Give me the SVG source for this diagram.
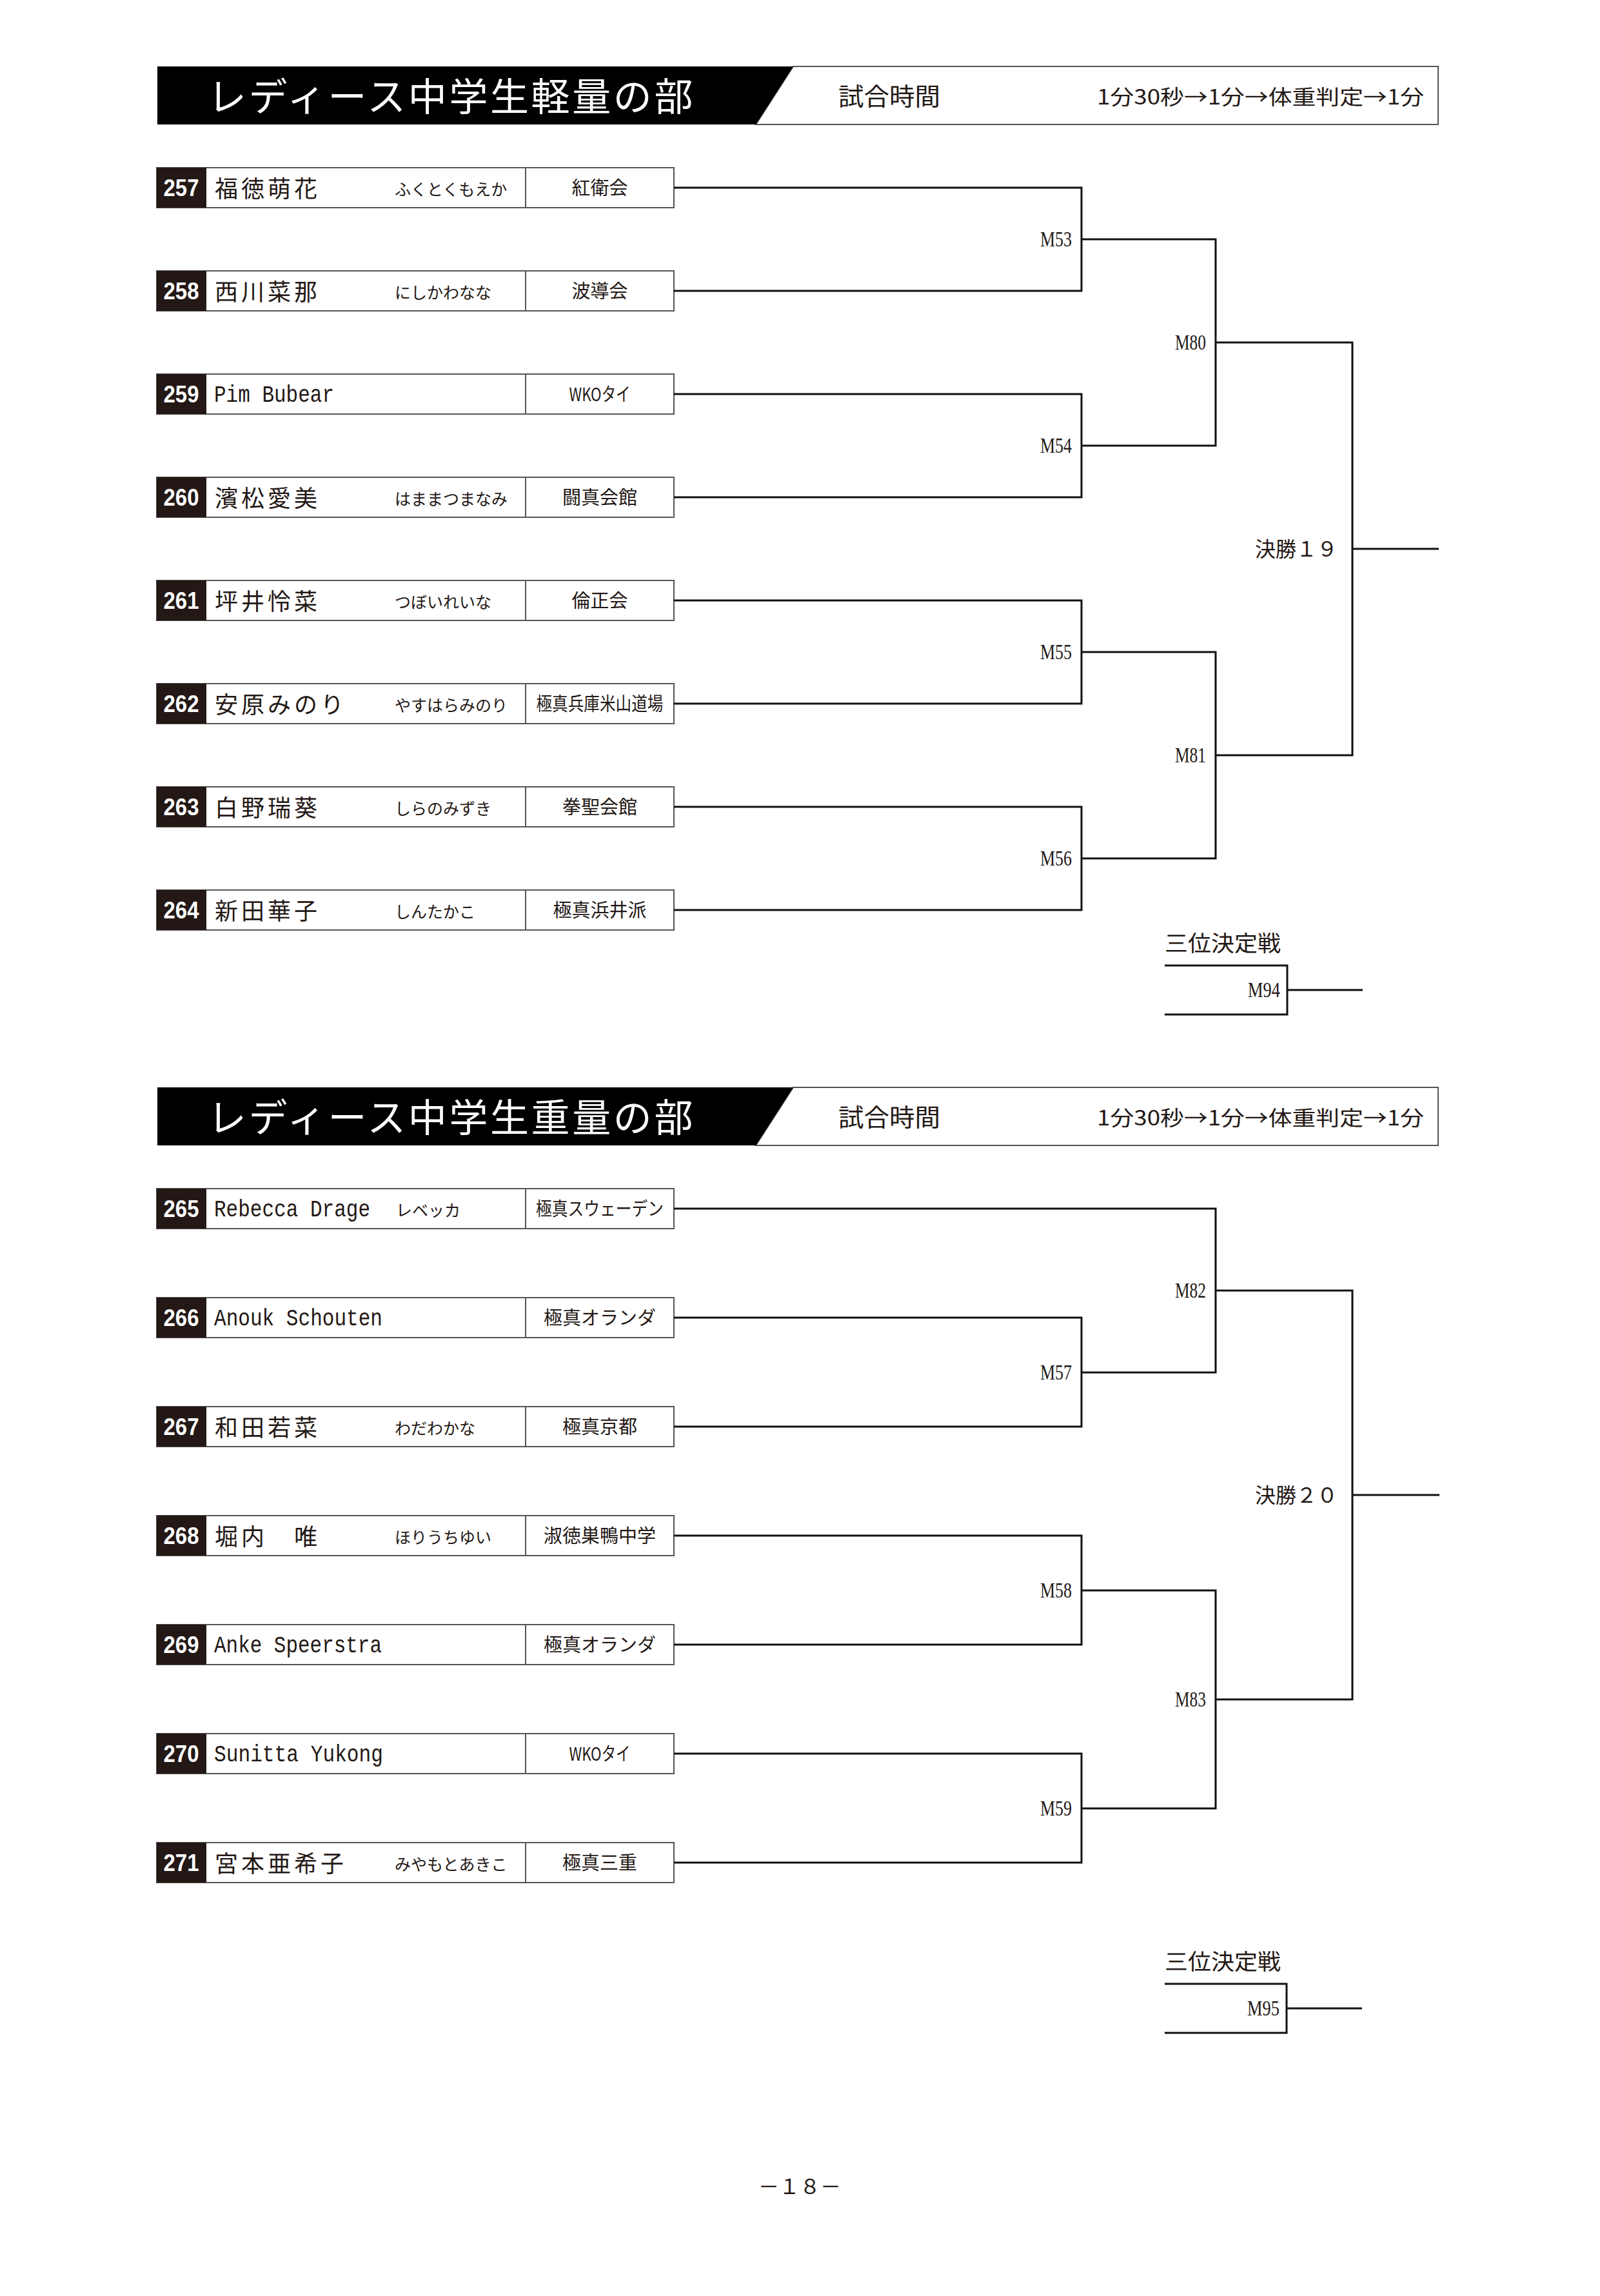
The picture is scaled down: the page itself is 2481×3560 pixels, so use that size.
<svg xmlns="http://www.w3.org/2000/svg" width="2481" height="3560" viewBox="0 0 2481 3560">
<style>
.bg{fill:#fff}
.box{fill:#fff;stroke:#555;stroke-width:2}
.num{fill:#231815}
.div{stroke:#555;stroke-width:2}
.numt{font-family:"Liberation Sans",Arial,sans-serif;font-weight:bold;font-size:37px;fill:#fff;text-anchor:middle}
.name{font-family:"Noto Sans CJK JP",sans-serif;font-size:36px;fill:#231815;letter-spacing:5px}
.lname{font-family:"Liberation Mono",monospace;font-size:37px;fill:#231815}
.kana{font-family:"Noto Sans CJK JP",sans-serif;font-size:25px;fill:#231815}
.club{font-family:"Noto Sans CJK JP",sans-serif;font-size:29px;fill:#231815;text-anchor:middle}
.ln{fill:none;stroke:#111;stroke-width:3}
.mlab{font-family:"Liberation Serif",serif;font-size:33px;fill:#231815;text-anchor:end}
.fin{font-family:"Noto Sans CJK JP",sans-serif;font-size:32px;fill:#231815;text-anchor:end}
.third{font-family:"Noto Sans CJK JP",sans-serif;font-size:34px;fill:#231815}
.title{font-family:"Noto Sans CJK JP",sans-serif;font-size:60px;fill:#fff;letter-spacing:3.6px}
.hdr{font-family:"Noto Sans CJK JP",sans-serif;fill:#231815}
.hbox{fill:#fff;stroke:#555;stroke-width:2}
.page{font-family:"Noto Sans CJK JP",sans-serif;font-size:32px;fill:#231815;text-anchor:middle}
</style>
<rect class="bg" x="0" y="0" width="2481" height="3560"/>

<!-- Header 1 -->
<g id="header1">
<polygon class="hbox" points="1230,103 2230,103 2230,193 1172,193"/>
<polygon fill="#000" points="244,103 1230,103 1172,193 244,193"/>
<text class="title" x="322" y="172">レディース中学生軽量の部</text>
<text class="hdr" x="1300" y="163" font-size="38" textLength="158" lengthAdjust="spacingAndGlyphs">試合時間</text>
<text class="hdr" x="1701" y="162" font-size="32" textLength="507" lengthAdjust="spacingAndGlyphs">1分30秒→1分→体重判定→1分</text>
</g>

<!-- Top entries -->
<g id="e257" transform="translate(0,260)">
<rect class="box" x="243" y="0" width="802" height="62"/><rect class="num" x="243" y="0" width="77" height="62"/><line class="div" x1="815" y1="0" x2="815" y2="62"/>
<text class="numt" x="281" y="44" textLength="55" lengthAdjust="spacingAndGlyphs">257</text>
<text class="name" x="333" y="46">福徳萌花</text><text class="kana" x="612" y="43">ふくとくもえか</text><text class="club" x="930" y="42">紅衛会</text>
</g>
<g id="e258" transform="translate(0,420)">
<rect class="box" x="243" y="0" width="802" height="62"/><rect class="num" x="243" y="0" width="77" height="62"/><line class="div" x1="815" y1="0" x2="815" y2="62"/>
<text class="numt" x="281" y="44" textLength="55" lengthAdjust="spacingAndGlyphs">258</text>
<text class="name" x="333" y="46">西川菜那</text><text class="kana" x="612" y="43">にしかわなな</text><text class="club" x="930" y="42">波導会</text>
</g>
<g id="e259" transform="translate(0,580)">
<rect class="box" x="243" y="0" width="802" height="62"/><rect class="num" x="243" y="0" width="77" height="62"/><line class="div" x1="815" y1="0" x2="815" y2="62"/>
<text class="numt" x="281" y="44" textLength="55" lengthAdjust="spacingAndGlyphs">259</text>
<text class="lname" x="332" y="43" textLength="186" lengthAdjust="spacingAndGlyphs">Pim Bubear</text><text class="club" x="930" y="42" textLength="95" lengthAdjust="spacingAndGlyphs">WKOタイ</text>
</g>
<g id="e260" transform="translate(0,740)">
<rect class="box" x="243" y="0" width="802" height="62"/><rect class="num" x="243" y="0" width="77" height="62"/><line class="div" x1="815" y1="0" x2="815" y2="62"/>
<text class="numt" x="281" y="44" textLength="55" lengthAdjust="spacingAndGlyphs">260</text>
<text class="name" x="333" y="46">濱松愛美</text><text class="kana" x="612" y="43">はままつまなみ</text><text class="club" x="930" y="42">闘真会館</text>
</g>
<g id="e261" transform="translate(0,900)">
<rect class="box" x="243" y="0" width="802" height="62"/><rect class="num" x="243" y="0" width="77" height="62"/><line class="div" x1="815" y1="0" x2="815" y2="62"/>
<text class="numt" x="281" y="44" textLength="55" lengthAdjust="spacingAndGlyphs">261</text>
<text class="name" x="333" y="46">坪井怜菜</text><text class="kana" x="612" y="43">つぼいれいな</text><text class="club" x="930" y="42">倫正会</text>
</g>
<g id="e262" transform="translate(0,1060)">
<rect class="box" x="243" y="0" width="802" height="62"/><rect class="num" x="243" y="0" width="77" height="62"/><line class="div" x1="815" y1="0" x2="815" y2="62"/>
<text class="numt" x="281" y="44" textLength="55" lengthAdjust="spacingAndGlyphs">262</text>
<text class="name" x="333" y="46">安原みのり</text><text class="kana" x="612" y="43">やすはらみのり</text><text class="club" x="930" y="42" textLength="197" lengthAdjust="spacingAndGlyphs">極真兵庫米山道場</text>
</g>
<g id="e263" transform="translate(0,1220)">
<rect class="box" x="243" y="0" width="802" height="62"/><rect class="num" x="243" y="0" width="77" height="62"/><line class="div" x1="815" y1="0" x2="815" y2="62"/>
<text class="numt" x="281" y="44" textLength="55" lengthAdjust="spacingAndGlyphs">263</text>
<text class="name" x="333" y="46">白野瑞葵</text><text class="kana" x="612" y="43">しらのみずき</text><text class="club" x="930" y="42">拳聖会館</text>
</g>
<g id="e264" transform="translate(0,1380)">
<rect class="box" x="243" y="0" width="802" height="62"/><rect class="num" x="243" y="0" width="77" height="62"/><line class="div" x1="815" y1="0" x2="815" y2="62"/>
<text class="numt" x="281" y="44" textLength="55" lengthAdjust="spacingAndGlyphs">264</text>
<text class="name" x="333" y="46">新田華子</text><text class="kana" x="612" y="43">しんたかこ</text><text class="club" x="930" y="42">極真浜井派</text>
</g>

<!-- Third place top -->
<g id="third1">
<text class="third" x="1806" y="1475" textLength="180" lengthAdjust="spacingAndGlyphs">三位決定戦</text>
<text class="mlab" x="1985" y="1546" textLength="50" lengthAdjust="spacingAndGlyphs">M94</text>
</g>

<!-- Header 2 -->
<g id="header2" transform="translate(0,1583)">
<polygon class="hbox" points="1230,103 2230,103 2230,193 1172,193"/>
<polygon fill="#000" points="244,103 1230,103 1172,193 244,193"/>
<text class="title" x="322" y="172">レディース中学生重量の部</text>
<text class="hdr" x="1300" y="163" font-size="38" textLength="158" lengthAdjust="spacingAndGlyphs">試合時間</text>
<text class="hdr" x="1701" y="162" font-size="32" textLength="507" lengthAdjust="spacingAndGlyphs">1分30秒→1分→体重判定→1分</text>
</g>

<!-- Bottom entries -->
<g id="e265" transform="translate(0,1843)">
<rect class="box" x="243" y="0" width="802" height="62"/><rect class="num" x="243" y="0" width="77" height="62"/><line class="div" x1="815" y1="0" x2="815" y2="62"/>
<text class="numt" x="281" y="44" textLength="55" lengthAdjust="spacingAndGlyphs">265</text>
<text class="lname" x="332" y="43" textLength="242" lengthAdjust="spacingAndGlyphs">Rebecca Drage</text><text class="kana" x="614" y="43">レベッカ</text><text class="club" x="930" y="42" textLength="198" lengthAdjust="spacingAndGlyphs">極真スウェーデン</text>
</g>
<g id="e266" transform="translate(0,2012)">
<rect class="box" x="243" y="0" width="802" height="62"/><rect class="num" x="243" y="0" width="77" height="62"/><line class="div" x1="815" y1="0" x2="815" y2="62"/>
<text class="numt" x="281" y="44" textLength="55" lengthAdjust="spacingAndGlyphs">266</text>
<text class="lname" x="332" y="43" textLength="261" lengthAdjust="spacingAndGlyphs">Anouk Schouten</text><text class="club" x="930" y="42">極真オランダ</text>
</g>
<g id="e267" transform="translate(0,2181)">
<rect class="box" x="243" y="0" width="802" height="62"/><rect class="num" x="243" y="0" width="77" height="62"/><line class="div" x1="815" y1="0" x2="815" y2="62"/>
<text class="numt" x="281" y="44" textLength="55" lengthAdjust="spacingAndGlyphs">267</text>
<text class="name" x="333" y="46">和田若菜</text><text class="kana" x="612" y="43">わだわかな</text><text class="club" x="930" y="42">極真京都</text>
</g>
<g id="e268" transform="translate(0,2350)">
<rect class="box" x="243" y="0" width="802" height="62"/><rect class="num" x="243" y="0" width="77" height="62"/><line class="div" x1="815" y1="0" x2="815" y2="62"/>
<text class="numt" x="281" y="44" textLength="55" lengthAdjust="spacingAndGlyphs">268</text>
<text class="name" x="333" y="46">堀内　唯</text><text class="kana" x="612" y="43">ほりうちゆい</text><text class="club" x="930" y="42">淑徳巣鴨中学</text>
</g>
<g id="e269" transform="translate(0,2519)">
<rect class="box" x="243" y="0" width="802" height="62"/><rect class="num" x="243" y="0" width="77" height="62"/><line class="div" x1="815" y1="0" x2="815" y2="62"/>
<text class="numt" x="281" y="44" textLength="55" lengthAdjust="spacingAndGlyphs">269</text>
<text class="lname" x="332" y="43" textLength="260" lengthAdjust="spacingAndGlyphs">Anke Speerstra</text><text class="club" x="930" y="42">極真オランダ</text>
</g>
<g id="e270" transform="translate(0,2688)">
<rect class="box" x="243" y="0" width="802" height="62"/><rect class="num" x="243" y="0" width="77" height="62"/><line class="div" x1="815" y1="0" x2="815" y2="62"/>
<text class="numt" x="281" y="44" textLength="55" lengthAdjust="spacingAndGlyphs">270</text>
<text class="lname" x="332" y="43" textLength="262" lengthAdjust="spacingAndGlyphs">Sunitta Yukong</text><text class="club" x="930" y="42" textLength="95" lengthAdjust="spacingAndGlyphs">WKOタイ</text>
</g>
<g id="e271" transform="translate(0,2857)">
<rect class="box" x="243" y="0" width="802" height="62"/><rect class="num" x="243" y="0" width="77" height="62"/><line class="div" x1="815" y1="0" x2="815" y2="62"/>
<text class="numt" x="281" y="44" textLength="55" lengthAdjust="spacingAndGlyphs">271</text>
<text class="name" x="333" y="46">宮本亜希子</text><text class="kana" x="612" y="43">みやもとあきこ</text><text class="club" x="930" y="42">極真三重</text>
</g>

<!-- Third place bottom -->
<g id="third2">
<text class="third" x="1806" y="3054" textLength="180" lengthAdjust="spacingAndGlyphs">三位決定戦</text>
<text class="mlab" x="1984" y="3125" textLength="50" lengthAdjust="spacingAndGlyphs">M95</text>
</g>

<!-- Connectors -->
<g id="connectors">
<path class="ln" d="M1045,291 H1677 V451 H1045"/>
<path class="ln" d="M1045,611 H1677 V771 H1045"/>
<path class="ln" d="M1045,931 H1677 V1091 H1045"/>
<path class="ln" d="M1045,1251 H1677 V1411 H1045"/>
<path class="ln" d="M1677,371 H1885 V691 H1677"/>
<path class="ln" d="M1677,1011 H1885 V1331 H1677"/>
<path class="ln" d="M1885,531 H2097 V1171 H1885"/>
<path class="ln" d="M2097,851 H2231"/>
<path class="ln" d="M1806,1497 H1996 V1573 H1806"/>
<path class="ln" d="M1996,1535 H2113"/>

<path class="ln" d="M1045,1874 H1885 V2128 H1677"/>
<path class="ln" d="M1045,2043 H1677 V2212 H1045"/>
<path class="ln" d="M1045,2381 H1677 V2550 H1045"/>
<path class="ln" d="M1045,2719 H1677 V2888 H1045"/>
<path class="ln" d="M1677,2466 H1885 V2804 H1677"/>
<path class="ln" d="M1885,2001 H2097 V2635 H1885"/>
<path class="ln" d="M2097,2318 H2232"/>
<path class="ln" d="M1806,3076 H1995 V3152 H1806"/>
<path class="ln" d="M1995,3114 H2112"/>
</g>

<!-- Match labels -->
<g id="labels">
<text class="mlab" x="1662" y="382" textLength="49" lengthAdjust="spacingAndGlyphs">M53</text>
<text class="mlab" x="1662" y="702" textLength="49" lengthAdjust="spacingAndGlyphs">M54</text>
<text class="mlab" x="1662" y="1022" textLength="49" lengthAdjust="spacingAndGlyphs">M55</text>
<text class="mlab" x="1662" y="1342" textLength="49" lengthAdjust="spacingAndGlyphs">M56</text>
<text class="mlab" x="1870" y="542" textLength="48" lengthAdjust="spacingAndGlyphs">M80</text>
<text class="mlab" x="1870" y="1182" textLength="48" lengthAdjust="spacingAndGlyphs">M81</text>
<text class="fin" x="2074" y="863">決勝１９</text>
<text class="mlab" x="1870" y="2012" textLength="48" lengthAdjust="spacingAndGlyphs">M82</text>
<text class="mlab" x="1662" y="2139" textLength="49" lengthAdjust="spacingAndGlyphs">M57</text>
<text class="mlab" x="1662" y="2477" textLength="49" lengthAdjust="spacingAndGlyphs">M58</text>
<text class="mlab" x="1662" y="2815" textLength="49" lengthAdjust="spacingAndGlyphs">M59</text>
<text class="mlab" x="1870" y="2646" textLength="48" lengthAdjust="spacingAndGlyphs">M83</text>
<text class="fin" x="2074" y="2330">決勝２０</text>
</g>

<text class="page" x="1240" y="3402">－１８－</text>
</svg>
